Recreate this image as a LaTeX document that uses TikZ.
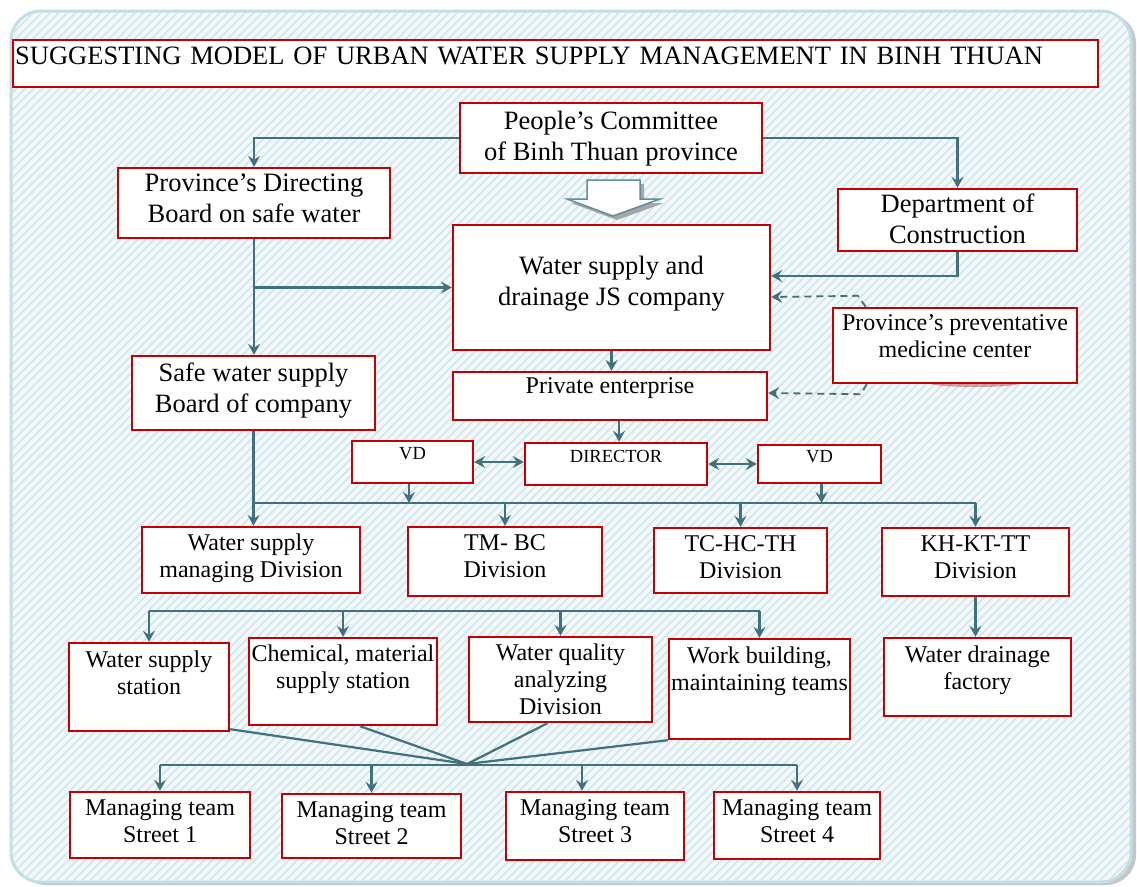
\documentclass[tikz,border=0pt]{standalone}
\usepackage{fontspec}
\setmainfont{Liberation Serif}
\usepackage{tikz}
\usetikzlibrary{arrows.meta,calc,patterns.meta}
\definecolor{boxred}{HTML}{C40000}
\definecolor{linkblue}{HTML}{41707F}
\definecolor{hatchblue}{HTML}{D0E5EE}
\definecolor{paleblue}{HTML}{F3F9FB}
\definecolor{rimblue}{HTML}{C2DEE8}
\definecolor{arrowgray}{HTML}{5F8E9C}

\begin{document}
\begin{tikzpicture}[x=1pt,y=-1pt,
  >={Stealth[length=11pt,width=12pt,inset=4pt]},
  box/.style={draw=boxred,fill=white,line width=2.4pt,inner sep=0pt,align=center,
    font=\fontsize{26.5}{31}\selectfont},
  midbox/.style={box,font=\fontsize{24}{27}\selectfont},
  smallbox/.style={box,font=\fontsize{18.5}{21}\selectfont},
  textup/.style={text depth=#1},
  link/.style={draw=linkblue,line width=2.2pt},
  conn/.style={link,->},
  twoway/.style={link,<->},
  dashlink/.style={link,->,line width=1.8pt,dash pattern=on 7pt off 5pt}]

\useasboundingbox (0,0) rectangle (1137,886);
\fill[gray!45,rounded corners=30] (16,13) rectangle (1136,885);
\filldraw[fill=paleblue,draw=rimblue,line width=3pt,rounded corners=30] (11,11) rectangle (1131,882);
\fill[pattern={Lines[angle=45,distance=6pt,line width=1.6pt]},pattern color=hatchblue,rounded corners=30]
  (12,12) rectangle (1130,881);

\fill[gray!70] (591,184) -- (644,184) -- (644,203) -- (664,203) -- (617,220) -- (571,203) -- (591,203) -- cycle;
\filldraw[fill=white,draw=arrowgray,line width=1.5pt] (587,180) -- (640,180) -- (640,199) -- (660,199)
  -- (613,216) -- (567,199) -- (587,199) -- cycle;
\fill[red!60!black,opacity=.35] (975,383) ellipse (46 and 4);

\node[box,anchor=west,text width=1081pt,inner xsep=2pt,align=left,minimum height=47,textup=14.6pt] (title)
  at (12,63.5) {SUGGESTING MODEL OF URBAN WATER SUPPLY MANAGEMENT IN BINH THUAN};

\node[box,minimum width=302,minimum height=70,textup=5.1pt] (pc) at (611,138) {People's Committee\\of Binh Thuan province};
\node[box,minimum width=272,minimum height=70,textup=9.1pt] (pdb) at (254,203) {Province's Directing\\Board on safe water};
\node[box,minimum width=239,minimum height=62,textup=3.1pt] (doc) at (957.5,220) {Department of\\Construction};
\node[box,minimum width=317,minimum height=125,textup=14.1pt] (js) at (611.5,287.5) {Water supply and\\drainage JS company};
\node[midbox,minimum width=244,minimum height=75,textup=18.4pt] (pmc) at (955,345.5) {Province's preventative\\medicine center};
\node[box,minimum width=243,minimum height=74,textup=11.1pt] (swb) at (253.5,393) {Safe water supply\\Board of company};
\node[midbox,minimum width=314,minimum height=48,textup=20pt] (pe) at (610,396) {Private enterprise};

\node[smallbox,minimum width=121,minimum height=42,textup=16.2pt] (vdl) at (412.5,462) {VD};
\node[smallbox,minimum width=182,minimum height=42,textup=14.5pt] (dir) at (616,464) {DIRECTOR};
\node[smallbox,minimum width=123,minimum height=38,textup=14.2pt] (vdr) at (819.5,464) {VD};

\node[midbox,minimum width=218,minimum height=66,textup=9.4pt] (wsd) at (251,560) {Water supply\\managing Division};
\node[midbox,minimum width=194,minimum height=69,textup=10.4pt] (tmd) at (505,561.5) {TM- BC\\Division};
\node[midbox,minimum width=173,minimum height=65,textup=6.4pt] (tcd) at (740.5,560.5) {TC-HC-TH\\Division};
\node[midbox,minimum width=187,minimum height=68,textup=9.4pt] (khd) at (975.5,562) {KH-KT-TT\\Division};

\node[midbox,minimum width=160,minimum height=88,textup=29.4pt] (wss) at (149,687) {Water supply\\station};
\node[midbox,minimum width=188,minimum height=87,textup=30.4pt] (cms) at (343,681.5) {Chemical, material\\supply station};
\node[midbox,minimum width=183,minimum height=85,textup=1.4pt] (wqd) at (560.5,679.5) {Water quality\\analyzing\\Division};
\node[midbox,minimum width=181,minimum height=100,textup=41.4pt] (wbt) at (759.5,689) {Work building,\\maintaining teams};
\node[midbox,minimum width=187,minimum height=78,textup=19.4pt] (wdf) at (977.5,677) {Water drainage\\factory};

\node[midbox,minimum width=180,minimum height=66,textup=7.4pt] (mt1) at (160,825) {Managing team\\Street 1};
\node[midbox,minimum width=179,minimum height=64,textup=5.4pt] (mt2) at (371.5,826) {Managing team\\Street 2};
\node[midbox,minimum width=178,minimum height=68,textup=9.4pt] (mt3) at (595,826) {Managing team\\Street 3};
\node[midbox,minimum width=166,minimum height=67,textup=8.4pt] (mt4) at (797,825.5) {Managing team\\Street 4};

\draw[conn] (pc.west) -| (pdb.north);
\draw[conn] (pc.east) -| (doc.north);
\draw[conn] (pdb.south) -- (pdb.south |- swb.north);
\draw[conn] (pdb.south |- js.west) -- (js.west);
\draw[conn] (doc.south) |- ([yshift=11.5pt]js.east);
\draw[dashlink] ([xshift=34pt]pmc.north west) -- ++(-8,-11) -- ([yshift=-9.5pt]js.east);
\draw[dashlink] ([xshift=35pt]pmc.south west) -- ++(-6,10) -- ([yshift=3pt]pe.east);
\draw[conn] (js.south) -- (js.south |- pe.north);
\draw[conn] ([xshift=3pt]dir.north |- pe.south) -- ([xshift=3pt]dir.north);
\draw[twoway] (vdl.east) -- (vdl.east -| dir.west);
\draw[twoway] (dir.east) -- (dir.east -| vdr.west);

\coordinate (busa) at (0,503);
\draw[conn] (swb.south) -- (swb.south |- wsd.north);
\draw[link] (swb.south |- busa) -- (khd.north |- busa);
\draw[conn] ([xshift=-3.5pt]vdl.south) -- ([xshift=-3.5pt]vdl.south |- busa);
\draw[conn] ([xshift=2pt]vdr.south) -- ([xshift=2pt]vdr.south |- busa);
\foreach \n in {tmd,tcd,khd}
  \draw[conn] (\n.north |- busa) -- (\n.north);
\draw[conn] (khd.south) -- (khd.south |- wdf.north);

\coordinate (busb) at (0,611);
\draw[link] (wss.north |- busb) -- (wbt.north |- busb);
\foreach \n in {wss,cms,wqd,wbt}
  \draw[conn] (\n.north |- busb) -- (\n.north);

\coordinate (hub) at (467,764);
\draw[link] ([yshift=3pt]wss.south east) -- (hub);
\draw[link] ([xshift=17pt]cms.south) -- (hub);
\draw[link] ([xshift=-13pt]wqd.south) -- (hub);
\draw[link] (wbt.south west) -- (hub);

\coordinate (busc) at (0,765);
\draw[link] (mt1.north |- busc) -- (mt4.north |- busc);
\foreach \n in {mt1,mt2,mt4}
  \draw[conn] (\n.north |- busc) -- (\n.north);
\draw[conn] ([xshift=-13pt]mt3.north |- busc) -- ([xshift=-13pt]mt3.north);

\end{tikzpicture}
\end{document}
